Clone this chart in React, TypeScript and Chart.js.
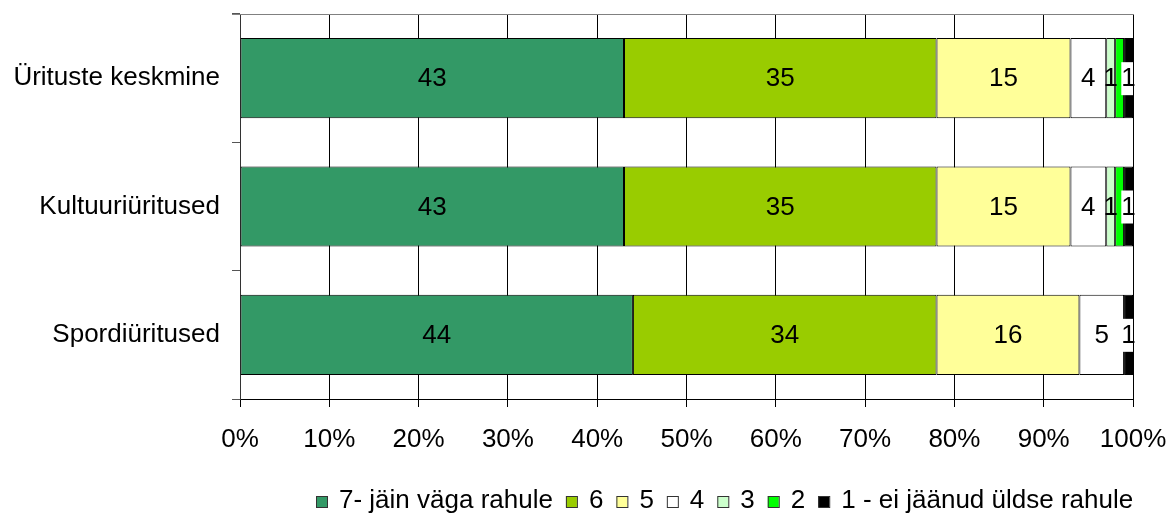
import { useEffect, useRef } from 'react';
import { Chart, registerables } from 'chart.js';

Chart.register(...registerables);

const FONT = "'Liberation Sans', Arial, sans-serif";

const categories = ['Ürituste keskmine', 'Kultuuriüritused', 'Spordiüritused'];
const seriesLabels = ['7- jäin väga rahule', '6', '5', '4', '3', '2', '1 - ei jäänud üldse rahule'];
const seriesColors = ['#339966', '#99CC00', '#FFFF99', '#FFFFFF', '#CCFFCC', '#00FF00', '#000000'];

const s7 = [43, 43, 44];
const s6 = [35, 35, 34];
const s5 = [15, 15, 16];
const s4 = [4, 4, 5];
const s3 = [1, 1, 0];
const s2 = [1, 1, 0];
const s1 = [1, 1, 1];

const seriesValues = [s7, s6, s5, s4, s3, s2, s1];
const xTickValues = [0, 10, 20, 30, 40, 50, 60, 70, 80, 90, 100];

const labelPlugin = {
  id: 'barLabels',
  afterDatasetsDraw(chart: any) {
    const ctx = chart.ctx;
    const area = chart.chartArea;
    ctx.save();
    ctx.font = `26px ${FONT}`;
    ctx.textAlign = 'center';
    ctx.textBaseline = 'middle';
    const n = chart.data.labels.length;
    for (let i = 0; i < n; i++) {
      // collect labels for this bar, from the last series back to the first
      const items: any[] = [];
      for (let di = chart.data.datasets.length - 1; di >= 0; di--) {
        const ds: any = chart.data.datasets[di];
        const v = ds.data[i];
        if (!v) continue;
        const el = chart.getDatasetMeta(di).data[i];
        const { x, y, base } = el.getProps(['x', 'y', 'base'], true);
        const cx = (x + base) / 2;
        const t = String(v);
        const w = ctx.measureText(t).width;
        const rect = { l: cx - w / 2, r: cx + w / 2 };
        const hidden = items.some((it) => rect.l < it.rect.r && rect.r > it.rect.l);
        if (hidden) continue;
        items.push({ t, cx, y, w, rect, bg: ds.labelBg });
      }
      items.reverse().forEach((it) => {
        if (it.bg) {
          const left = it.cx - it.w / 2;
          const right = Math.min(it.cx + it.w / 2, area.right);
          ctx.fillStyle = '#ffffff';
          ctx.fillRect(left, it.y - 16, right - left, 33);
        }
        ctx.fillStyle = '#000000';
        ctx.fillText(it.t, it.cx, it.y + 1);
      });
    }
    ctx.restore();
  },
};

const framePlugin = {
  id: 'frameAndLegend',
  afterDraw(chart: any) {
    const ctx = chart.ctx;
    const area = chart.chartArea;
    ctx.save();
    ctx.strokeStyle = '#808080';
    ctx.lineWidth = 1;
    ctx.beginPath();
    ctx.moveTo(area.left - 8, Math.round(area.top) + 0.5);
    ctx.lineTo(area.right + 1, Math.round(area.top) + 0.5);
    ctx.stroke();

    ctx.font = `26px ${FONT}`;
    ctx.textBaseline = 'alphabetic';
    ctx.textAlign = 'left';
    const box = 11;
    const gapText = 12;
    const gapItem = 13;
    const widths = seriesLabels.map((l) => ctx.measureText(l).width);
    let total = 0;
    widths.forEach((w, i) => {
      total += box + gapText + w + (i < widths.length - 1 ? gapItem : 0);
    });
    let x = Math.round(area.right - total);
    const baseline = 508;
    seriesLabels.forEach((l, i) => {
      ctx.fillStyle = seriesColors[i];
      ctx.fillRect(x, 496, box, box);
      ctx.strokeStyle = '#333333';
      ctx.strokeRect(x + 0.5, 496.5, box, box);
      ctx.fillStyle = '#000000';
      ctx.fillText(l, x + box + gapText, baseline);
      x += box + gapText + widths[i] + gapItem;
    });
    ctx.restore();
  },
};

export default function App() {
  const ref = useRef<HTMLCanvasElement | null>(null);

  useEffect(() => {
    document.body.style.margin = '0';
    const canvas = ref.current;
    if (!canvas) return;
    Chart.defaults.font.family = FONT;
    const chart = new Chart(canvas, {
      type: 'bar',
      data: {
        labels: categories,
        datasets: seriesValues.map((vals, i) => ({
          label: seriesLabels[i],
          data: vals,
          backgroundColor: seriesColors[i],
          borderColor: '#000000',
          borderWidth: 1,
          borderSkipped: false,
          categoryPercentage: 0.625,
          barPercentage: 1,
          labelBg: i === seriesValues.length - 1,
        })) as any,
      },
      options: {
        indexAxis: 'y',
        responsive: false,
        maintainAspectRatio: false,
        animation: false,
        layout: { padding: { left: 0, right: 37, top: 14, bottom: 54 } },
        plugins: {
          legend: { display: false },
          tooltip: { enabled: false },
        },
        scales: {
          x: {
            stacked: true,
            min: 0,
            max: 100,
            afterBuildTicks: (s: any) => {
              s.ticks = xTickValues.map((v) => ({ value: v }));
            },
            ticks: {
              callback: (v: any) => v + '%',
              color: '#000000',
              font: { size: 26, family: FONT },
              padding: 17,
              maxRotation: 0,
              autoSkip: false,
            },
            grid: { color: '#000000', lineWidth: 1, tickLength: 8 },
            border: { color: '#000000', width: 1 },
            afterFit: (s: any) => {
              s.height = 60;
              s.paddingLeft = 0;
              s.paddingRight = 0;
            },
          },
          y: {
            stacked: true,
            ticks: {
              color: '#000000',
              font: { size: 26, family: FONT },
              padding: 12,
            },
            grid: { offset: true, drawOnChartArea: false, color: '#555555', tickLength: 8 },
            border: { color: '#333333', width: 1 },
            afterFit: (s: any) => {
              s.width = 240;
              s.paddingTop = 0;
              s.paddingBottom = 0;
            },
          },
        },
      } as any,
      plugins: [labelPlugin, framePlugin],
    });
    return () => chart.destroy();
  }, []);

  return (
    <div style={{ width: 1170, height: 513 }}>
      <canvas ref={ref} width={1170} height={513} style={{ display: 'block' }} />
    </div>
  );
}
